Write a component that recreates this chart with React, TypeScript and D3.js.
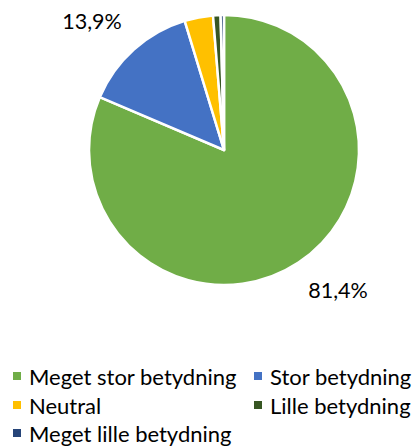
import React from "react";
import * as d3 from "d3";

const categories = ["Meget stor betydning", "Stor betydning", "Neutral", "Lille betydning", "Meget lille betydning"];
const values = [81.4, 13.9, 3.4, 0.9, 0.4];
const colors = ["#70AD47", "#4472C4", "#FFC000", "#375623", "#264478"];
const labelTexts = ["81,4%", "13,9%", "", "", ""];

export default function App() {
  const W = 419, H = 448;
  const cx = 224, cy = 150, r = 135;
  const pie = d3.pie<number>().sort(null).value((d) => d)(values);
  const arc = d3.arc<d3.PieArcDatum<number>>().innerRadius(0).outerRadius(r);
  const labelPos: [number, number][] = [[338, 290], [92, 21]];
  const legend = [
    { i: 0, x: 17, y: 376 },
    { i: 1, x: 258, y: 376 },
    { i: 2, x: 17, y: 405 },
    { i: 3, x: 258, y: 405 },
    { i: 4, x: 17, y: 433 },
  ];
  return (
    <svg width={W} height={H} style={{ position: "absolute", left: 0, top: 0 }} fontFamily="Lato, 'Open Sans', sans-serif">
      <rect width={W} height={H} fill="#fff" />
      <g transform={`translate(${cx},${cy})`}>
        {pie.map((p, i) => (
          <path key={i} d={arc(p) || ""} fill={colors[i]} stroke="#fff" strokeWidth={2.5} strokeLinejoin="round" />
        ))}
      </g>
      {labelPos.map((pos, k) => (
        <text key={k} x={pos[0]} y={pos[1]} textAnchor="middle" dominantBaseline="central" fontSize={21.5} fill="#000">
          {labelTexts[k]}
        </text>
      ))}
      {legend.map((l) => (
        <g key={l.i}>
          <rect x={l.x - 4} y={l.y - 4} width={8} height={8} fill={colors[l.i]} />
          <text x={l.x + 12} y={l.y} dominantBaseline="central" fontSize={22} fill="#000">
            {categories[l.i]}
          </text>
        </g>
      ))}
    </svg>
  );
}
